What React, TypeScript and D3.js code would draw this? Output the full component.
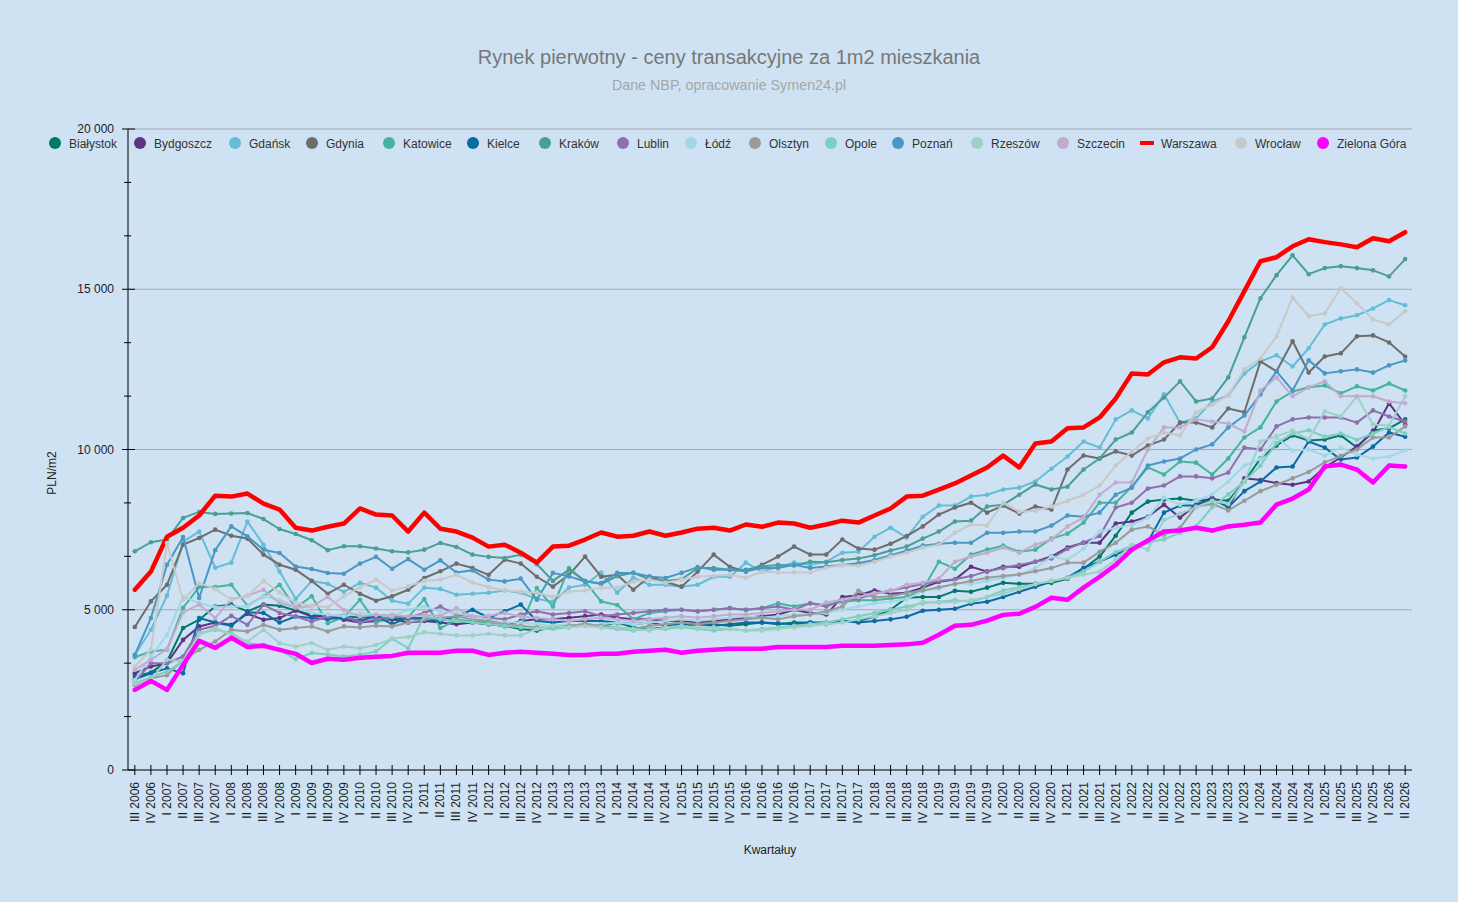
import React from 'react';
import * as d3 from 'd3';

// ---------- categories ----------
const quarterLabels: string[] = (() => {
  const r: string[] = ['III 2006', 'IV 2006'];
  for (let y = 2007; y <= 2025; y++) for (const q of ['I', 'II', 'III', 'IV']) r.push(`${q} ${y}`);
  r.push('I 2026', 'II 2026');
  return r;
})();

const yTickValues = [0, 5000, 10000, 15000, 20000];

// ---------- series values (PLN/m2) ----------
const bialystok = [2920, 3040,
  3390, 4430, 4690, 5100, 5160, 4950, 5160, 5125, 4980, 4840, 4810, 4810, 4750, 4800, 4700, 4720,
  4750, 4700, 4650, 4600, 4550, 4500, 4400, 4350, 4450, 4500, 4550, 4500, 4600, 4450, 4400, 4450,
  4500, 4550, 4550, 4500, 4550, 4600, 4550, 4600, 4600, 4550, 4650, 4650, 4790, 5000, 5375, 5400,
  5400, 5590, 5560, 5690, 5840, 5810, 5810, 5840, 5970, 6280, 6660, 7310, 8030, 8375, 8440, 8470,
  8400, 8450, 8400, 9000, 9720, 10125, 10440, 10280, 10310, 10440, 10060, 10590, 10660, 10940];
const bydgoszcz = [3020, 3230,
  3330, 4060, 4480, 4600, 4530, 4875, 4690, 4740, 4980, 4790, 4810, 4690, 4600, 4650, 4700, 4600,
  4650, 4600, 4550, 4600, 4550, 4500, 4650, 4700, 4700, 4750, 4800, 4850, 4750, 4700, 4700, 4650,
  4650, 4600, 4650, 4700, 4750, 4800, 4850, 5000, 4900, 4850, 5400, 5450, 5600, 5500, 5530, 5690,
  5875, 5940, 6340, 6190, 6340, 6340, 6500, 6660, 6940, 7090, 7090, 7690, 7750, 7900, 8280, 7875,
  8280, 8500, 8200, 9100, 9050, 8950, 8900, 9000, 9450, 9750, 10100, 10530, 11440, 10780];
const gdansk = [3590, 4375,
  5440, 7125, 7440, 6310, 6470, 7750, 7030, 6190, 5340, 5900, 5810, 5560, 5840, 5690, 5280, 5190,
  5690, 5650, 5470, 5500, 5530, 5600, 5530, 5340, 5250, 5690, 5780, 6160, 5530, 6000, 5780, 5780,
  5720, 5780, 6030, 6030, 6470, 6190, 6340, 6470, 6400, 6500, 6780, 6810, 7280, 7560, 7250, 7900,
  8250, 8250, 8530, 8590, 8750, 8810, 9000, 9400, 9780, 10250, 10060, 10940, 11220, 10970, 11720, 10840,
  10970, 11500, 11690, 12375, 12750, 12940, 12590, 13160, 13900, 14090, 14190, 14400, 14660, 14500];
const gdynia = [4460, 5260,
  5780, 7030, 7240, 7500, 7310, 7220, 6720, 6406, 6250, 5900, 5500, 5780, 5500, 5280, 5420, 5625,
  5990, 6200, 6440, 6300, 6090, 6560, 6440, 6030, 5720, 6090, 6660, 6030, 6090, 5625, 6030, 5875,
  5720, 6190, 6720, 6340, 6190, 6400, 6660, 6970, 6720, 6720, 7190, 6910, 6875, 7060, 7300, 7600,
  7970, 8190, 8340, 8030, 8250, 8000, 8220, 8125, 9375, 9810, 9720, 9940, 9810, 10125, 10310, 10840,
  10840, 10690, 11280, 11160, 12750, 12440, 13375, 12400, 12900, 13000, 13530, 13560, 13340, 12900];
const katowice = [3520, 3700,
  3750, 5060, 5710, 5710, 5780, 5125, 5420, 5780, 5060, 5420, 4580, 4770, 5310, 4600, 4770, 4770,
  5330, 4430, 4690, 4640, 4600, 4480, 4500, 5680, 5100, 6300, 5880, 5260, 5150, 4700, 4900, 4950,
  5000, 4950, 5000, 5050, 5000, 5050, 5200, 5100, 5200, 5150, 5250, 5300, 5300, 5350, 5400, 5625,
  6500, 6280, 6720, 6875, 7000, 6810, 6875, 7220, 7375, 7720, 8340, 8340, 8840, 9440, 9220, 9625,
  9590, 9220, 9720, 10375, 10690, 11500, 11810, 11940, 12000, 11750, 11970, 11840, 12060, 11840];
const kielce = [2830, 3020,
  3170, 3020, 4740, 4600, 4500, 4920, 4900, 4600, 4790, 4740, 4710, 4760, 4650, 4800, 4550, 4750,
  4700, 4650, 4800, 5000, 4750, 4950, 5160, 4650, 4600, 4650, 4650, 4650, 4600, 4550, 4600, 4500,
  4550, 4550, 4500, 4550, 4600, 4600, 4580, 4550, 4600, 4600, 4650, 4600, 4650, 4700, 4780, 4970,
  5000, 5030, 5190, 5250, 5400, 5560, 5720, 5875, 6000, 6310, 6500, 6720, 6940, 7125, 8030, 8250,
  8250, 8450, 8200, 8700, 9000, 9440, 9470, 10250, 10060, 9690, 9750, 10090, 10530, 10400];
const krakow = [6823, 7106,
  7190, 7865, 8052, 7990, 8000, 8020, 7830, 7520, 7365, 7170, 6860, 6980, 6980, 6910, 6823, 6790,
  6875, 7085, 6960, 6720, 6650, 6615, 6720, 6420, 5900, 6250, 5900, 5800, 6050, 6150, 5950, 5900,
  5950, 6300, 6300, 6250, 6250, 6350, 6400, 6380, 6500, 6480, 6550, 6600, 6700, 6850, 6970, 7220,
  7440, 7750, 7780, 8220, 8280, 8590, 8910, 8750, 8840, 9375, 9720, 10310, 10530, 11160, 11625, 12125,
  11500, 11590, 12250, 13500, 14720, 15440, 16060, 15470, 15660, 15720, 15660, 15590, 15400, 15940];
const lublin = [2760, 3330,
  3330, 3540, 4375, 4500, 4810, 4530, 5160, 4900, 4790, 4630, 4790, 4810, 4600, 4700, 4800, 4750,
  4900, 5100, 4850, 4800, 4750, 4700, 4850, 4950, 4850, 4900, 4950, 4800, 4850, 4900, 4950, 5000,
  5000, 4950, 5000, 5050, 5000, 5050, 5100, 5000, 5200, 5100, 5300, 5350, 5500, 5600, 5700, 5800,
  5900, 5950, 6050, 6200, 6300, 6400, 6500, 6600, 6900, 7100, 7300, 8190, 8340, 8780, 8875, 9160,
  9160, 9100, 9280, 10060, 10000, 10720, 10940, 11000, 11000, 11000, 10840, 11220, 11030, 10875];
const lodz = [2810, 3540,
  4220, 5400, 5210, 5080, 5100, 5100, 5420, 5313, 5100, 4900, 4850, 4800, 4900, 4850, 4800, 5000,
  5100, 4950, 4900, 4800, 4700, 4600, 4600, 4550, 4500, 4550, 4500, 4550, 4600, 4550, 4600, 4650,
  4700, 4650, 4700, 4750, 4800, 4750, 4800, 4850, 4850, 4900, 5000, 5100, 5200, 5250, 5330, 5590,
  5650, 5840, 5800, 5900, 6000, 6100, 6300, 6660, 6560, 6900, 7440, 7560, 7650, 7875, 8500, 8280,
  8400, 8600, 9000, 9500, 9700, 10375, 9970, 10000, 9810, 10060, 9840, 9720, 9780, 9970];
const olsztyn = [2650, 2860,
  2960, 3440, 3750, 4010, 4375, 4320, 4530, 4375, 4430, 4480, 4320, 4480, 4450, 4500, 4480, 4600,
  4700, 4750, 4800, 4700, 4650, 4550, 4500, 4450, 4450, 4500, 4550, 4500, 4450, 4400, 4500, 4550,
  4600, 4550, 4600, 4650, 4700, 4750, 4700, 4800, 4850, 4950, 5100, 5590, 5380, 5420, 5520, 5600,
  5700, 5800, 5900, 6000, 6050, 6100, 6200, 6300, 6470, 6470, 6810, 7090, 7500, 7600, 7340, 7560,
  8220, 8300, 8100, 8400, 8700, 8900, 9100, 9300, 9600, 9800, 10000, 10375, 10375, 10720];
const opole = [2700, 2900,
  3070, 3390, 4270, 4375, 4270, 3960, 3910, 3750, 3460, 3650, 3600, 3540, 3600, 3700, 4100, 3800,
  4800, 4700, 4650, 4600, 4550, 4500, 4450, 4400, 4400, 4450, 4500, 4450, 4400, 4350, 4400, 4400,
  4450, 4400, 4350, 4400, 4350, 4400, 4450, 4500, 4550, 4600, 4700, 4800, 4900, 5000, 5100, 5200,
  5250, 5300, 5250, 5400, 5600, 5700, 5800, 5900, 6000, 6200, 6500, 6800, 7000, 7100, 7200, 7400,
  7600, 8200, 8600, 9000, 9500, 10200, 10500, 10600, 10400, 10500, 10300, 10500, 10700, 10500];
const poznan = [3594, 4740,
  6406, 7270, 5365, 6860, 7600, 7290, 6875, 6770, 6350, 6270, 6146, 6125, 6440, 6650, 6280, 6580,
  6250, 6540, 6160, 6230, 5940, 5885, 5970, 5310, 6150, 6040, 5880, 5830, 6150, 6150, 6040, 5990,
  6150, 6330, 6250, 6250, 6200, 6300, 6300, 6400, 6300, 6350, 6400, 6450, 6550, 6700, 6840, 7000,
  7060, 7090, 7090, 7400, 7400, 7440, 7440, 7625, 7940, 7900, 8030, 8590, 8810, 9500, 9625, 9720,
  10000, 10160, 10690, 11060, 11720, 12440, 11840, 12780, 12375, 12440, 12500, 12400, 12625, 12780];
const rzeszow = [2700, 2810,
  3440, 3390, 4220, 4430, 4220, 4010, 4375, 3960, 3850, 3960, 3750, 3850, 3800, 3900, 4100, 4150,
  4300, 4250, 4200, 4200, 4250, 4200, 4200, 4400, 4500, 4450, 4500, 4450, 4450, 4400, 4350, 4450,
  4500, 4450, 4450, 4400, 4350, 4350, 4400, 4450, 4500, 4550, 4600, 4700, 4800, 4900, 5000, 5250,
  5220, 5250, 5300, 5400, 5500, 5650, 5800, 5900, 6000, 6100, 6190, 6560, 7030, 6875, 7800, 8000,
  8200, 8400, 8300, 9000, 10250, 10410, 10590, 10310, 11190, 11030, 11660, 10780, 10750, 11660];
const szczecin = [3125, 3440,
  3770, 4920, 5160, 4740, 5330, 5440, 5625, 5210, 5080, 5100, 5400, 4990, 4790, 4840, 4840, 4790,
  4840, 4810, 5050, 4770, 4810, 4900, 4790, 4740, 4700, 4650, 4700, 4750, 4700, 4650, 4700, 4750,
  4800, 4750, 4800, 4850, 4850, 4900, 4950, 5000, 5000, 5230, 5310, 5400, 5520, 5580, 5780, 5840,
  5970, 6500, 6660, 6780, 6940, 6780, 7030, 7190, 7600, 7875, 8590, 8970, 8970, 10000, 10690, 10690,
  10940, 10875, 10810, 10560, 11840, 12250, 11660, 11940, 12125, 11660, 11660, 11660, 11500, 11440];
const warszawa = [5625, 6190,
  7280, 7560, 7940, 8560, 8530, 8625, 8310, 8125, 7560, 7470, 7590, 7690, 8160, 7970, 7940, 7440,
  8030, 7530, 7440, 7250, 6970, 7030, 6780, 6470, 6970, 7000, 7190, 7410, 7280, 7310, 7440, 7310,
  7410, 7530, 7560, 7470, 7660, 7590, 7720, 7690, 7560, 7660, 7780, 7720, 7940, 8160, 8530, 8560,
  8750, 8940, 9190, 9440, 9810, 9440, 10190, 10250, 10660, 10690, 11000, 11590, 12375, 12340, 12720, 12875,
  12840, 13190, 14000, 14940, 15875, 16000, 16340, 16560, 16470, 16400, 16310, 16590, 16500, 16780];
const wroclaw = [3230, 3750,
  7080, 5310, 5830, 5650, 5310, 5420, 5900, 5540, 5210, 5125, 5080, 5420, 5700, 5940, 5600, 5730,
  5900, 5940, 6090, 5850, 5700, 5600, 5560, 5530, 5400, 5560, 5600, 5690, 5690, 5875, 5940, 5840,
  5940, 6030, 6060, 6090, 6000, 6190, 6160, 6160, 6160, 6310, 6400, 6375, 6500, 6660, 6780, 6940,
  7030, 7400, 7660, 7625, 8340, 8060, 8090, 8220, 8400, 8590, 8875, 9500, 9940, 10340, 10530, 10440,
  11160, 11400, 11690, 12500, 12840, 13530, 14750, 14160, 14250, 15030, 14560, 14060, 13900, 14310];
const zielonaGora = [2500, 2780,
  2500, 3280, 4030, 3810, 4125, 3840, 3875, 3750, 3625, 3340, 3470, 3440, 3500, 3530, 3560, 3660,
  3660, 3660, 3720, 3720, 3590, 3660, 3690, 3660, 3625, 3590, 3590, 3625, 3625, 3690, 3720, 3750,
  3660, 3720, 3750, 3780, 3780, 3780, 3840, 3840, 3840, 3840, 3875, 3875, 3875, 3900, 3920, 3970,
  4220, 4500, 4530, 4660, 4840, 4875, 5090, 5375, 5310, 5690, 6030, 6400, 6875, 7160, 7440, 7470,
  7560, 7470, 7600, 7650, 7720, 8280, 8470, 8750, 9470, 9530, 9375, 8970, 9500, 9470];

const cityNames = ['Białystok', 'Bydgoszcz', 'Gdańsk', 'Gdynia', 'Katowice', 'Kielce', 'Kraków', 'Lublin', 'Łódź',
  'Olsztyn', 'Opole', 'Poznań', 'Rzeszów', 'Szczecin', 'Warszawa', 'Wrocław', 'Zielona Góra'];
const cityValues = [bialystok, bydgoszcz, gdansk, gdynia, katowice, kielce, krakow, lublin, lodz,
  olsztyn, opole, poznan, rzeszow, szczecin, warszawa, wroclaw, zielonaGora];

// ---------- styles ----------
const cityColors = ['#00796b', '#5e3382', '#64bdd6', '#6d6d6d', '#45b49e', '#0a6aa3', '#4a9e96', '#8f6fad', '#a0d8e6',
  '#9a9a9a', '#7ecfc0', '#4b97c3', '#9fd0c5', '#c1abcf', '#ff0000', '#c8c8c8', '#ff00ff'];
const thickSeries = new Set(['Warszawa', 'Zielona Góra']);
const legendSymbolX = [55, 140, 235, 312, 389, 473, 545, 623, 691, 755, 831, 898, 977, 1063, 1147, 1241, 1323];

const W = 1458, H = 902;
const FONT = '"Liberation Sans", Arial, Helvetica, sans-serif';
const plotLeft = 128, plotRight = 1412, plotTop = 129, plotBottom = 770;

export default function App() {
  const x = d3.scalePoint<string>().domain(quarterLabels).range([plotLeft, plotRight]).padding(0.425);
  const y = d3.scaleLinear().domain([0, 20000]).range([plotBottom, plotTop]);
  const minorTicks = d3.range(0, 20001, 5000 / 3).filter(v => !yTickValues.some(t => Math.abs(t - v) < 1));
  const fmt = (v: number) => d3.format(',')(v).replace(/,/g, ' ');

  const lineGen = d3.line<number>()
    .x((_, i) => x(quarterLabels[i]) as number)
    .y(d => y(d));

  return (
    <svg width={W} height={H} style={{ position: 'absolute', left: 0, top: 0, fontFamily: FONT }}>
      <rect x={0} y={0} width={W} height={H} fill="#cfe2f3" />
      {/* title */}
      <text x={729} y={64} textAnchor="middle" fontSize={20} fill="#777777">Rynek pierwotny - ceny transakcyjne za 1m2 mieszkania</text>
      <text x={729} y={90} textAnchor="middle" fontSize={14.3} fill="#a6a6a6">Dane NBP, opracowanie Symen24.pl</text>

      {/* grid */}
      {minorTicks.map(v => (
        <line key={'mg' + v} x1={plotLeft} x2={plotRight} y1={y(v)} y2={y(v)} stroke="#d7dde2" strokeWidth={1} />
      ))}
      {yTickValues.filter(v => v > 0).map(v => (
        <line key={'g' + v} x1={plotLeft} x2={plotRight} y1={y(v)} y2={y(v)} stroke="#a3aab2" strokeWidth={1} />
      ))}

      {/* y axis */}
      <line x1={plotLeft} x2={plotLeft} y1={plotTop} y2={plotBottom} stroke="#000" strokeWidth={1} />
      {minorTicks.map(v => (
        <line key={'mt' + v} x1={124} x2={131} y1={y(v)} y2={y(v)} stroke="#000" />
      ))}
      {yTickValues.map(v => (
        <g key={'yt' + v}>
          <line x1={122} x2={135} y1={y(v)} y2={y(v)} stroke="#000" />
          <text x={114} y={y(v)} dy="0.35em" textAnchor="end" fontSize={12} fill="#222">{fmt(v)}</text>
        </g>
      ))}
      <text transform={`translate(56,473) rotate(-90)`} textAnchor="middle" fontSize={12} fill="#222">PLN/m2</text>

      {/* x axis */}
      <line x1={plotLeft} x2={plotRight} y1={plotBottom} y2={plotBottom} stroke="#000" strokeWidth={1} />
      {quarterLabels.map(q => {
        const xx = x(q) as number;
        return (
          <g key={'xt' + q}>
            <line x1={xx} x2={xx} y1={plotBottom - 5} y2={plotBottom + 5} stroke="#000" />
            <text transform={`translate(${xx + 4},${plotBottom + 12}) rotate(-90)`} textAnchor="end" fontSize={12} fill="#222">{q}</text>
          </g>
        );
      })}
      <text x={770} y={854} textAnchor="middle" fontSize={12} fill="#222">Kwartałuy</text>

      {/* series */}
      {cityNames.map((name, si) => {
        const vals = cityValues[si];
        const thick = thickSeries.has(name);
        return (
          <g key={name}>
            <path d={lineGen(vals) as string} fill="none" stroke={cityColors[si]} strokeWidth={thick ? 4.5 : 2} strokeLinejoin="round" strokeLinecap="round" />
            {name !== 'Warszawa' && vals.map((v, i) => (
              <circle key={i} cx={x(quarterLabels[i]) as number} cy={y(v)} r={thick ? 2 : 2.3} fill={cityColors[si]} />
            ))}
          </g>
        );
      })}

      {/* legend */}
      {cityNames.map((name, si) => {
        const cx = legendSymbolX[si];
        return (
          <g key={'lg' + name}>
            {name === 'Warszawa'
              ? <rect x={cx - 7} y={141} width={14} height={4} fill={cityColors[si]} />
              : <circle cx={cx} cy={143} r={6} fill={cityColors[si]} />}
            <text x={cx + 14} y={147.5} fontSize={12} fill="#333">{name}</text>
          </g>
        );
      })}
    </svg>
  );
}
